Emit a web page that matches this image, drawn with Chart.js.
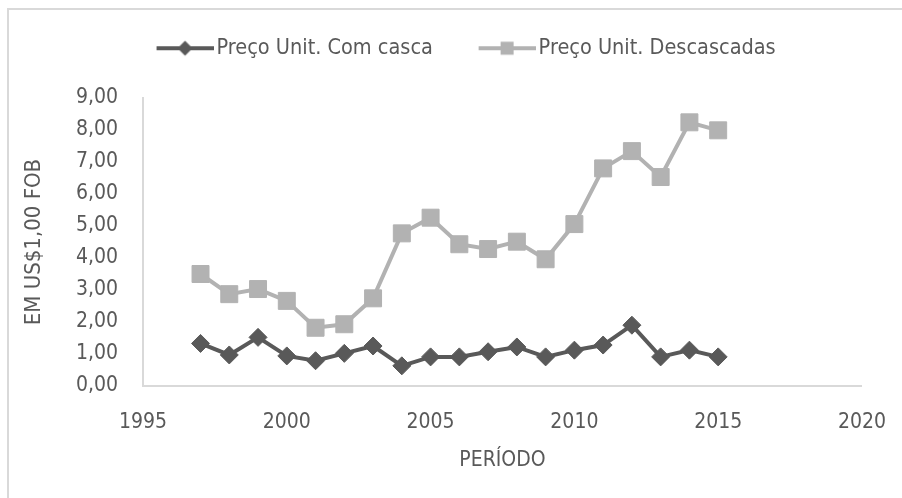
<!DOCTYPE html>
<html>
<head>
<meta charset="utf-8">
<script src="https://cdn.jsdelivr.net/npm/chart.js@4"></script>
<style>
    html, body { margin: 0; padding: 0; background: #fff; overflow: hidden; }
    #moldura {
        position: absolute; left: 7px; top: 8px;
        width: 1000px; height: 1000px;
        border: 2px solid #d9d9d9;
    }
    #chart-container { position: absolute; left: 0; top: 0; width: 902px; height: 498px; }
</style>
</head>
<body>
<div id="moldura"></div>
<div id="chart-container"><canvas id="chart-precos"></canvas></div>
<script>
                        /*
                            ========================
                               DADOS DO GRÁFICO
                            ========================
                                                      */
let anos = [1997, 1998, 1999, 2000, 2001, 2002, 2003, 2004, 2005, 2006,
            2007, 2008, 2009, 2010, 2011, 2012, 2013, 2014, 2015];

let precoComCasca = [1.33, 0.97, 1.52, 0.94, 0.79, 1.02, 1.25, 0.63, 0.91, 0.91,
                     1.07, 1.22, 0.91, 1.12, 1.28, 1.90, 0.91, 1.12, 0.91];

let precoDescascadas = [3.50, 2.87, 3.03, 2.66, 1.82, 1.93, 2.74, 4.77, 5.26, 4.43,
                        4.28, 4.51, 3.96, 5.06, 6.80, 7.34, 6.53, 8.24, 7.99];

let nomesSeries = ['Preço Unit. Com casca', 'Preço Unit. Descascadas'];
let tituloX = 'PERÍODO';
let tituloY = 'EM US$1,00 FOB';

let corEscura = '#595959';
let corClara = '#b2b2b2';
let corTexto = '#595959';
let corEixo = '#d9d9d9';

let tamFonte = 21;
let tamLegenda = 21.5;
let margemEsq = 60; // empurra a legenda para a direita

Chart.defaults.font.family = "'DejaVu Sans Condensed', 'Liberation Sans Narrow', sans-serif";
Chart.defaults.color = corTexto;

/* símbolo da legenda: linha com marcador no meio (com margem vazia à esquerda) */
let margemSimbolo = 18;
function simboloLegenda(cor, tipo) {
    let c = document.createElement('canvas');
    c.width = 57 + margemSimbolo;
    c.height = 20;
    let ctx = c.getContext('2d');
    ctx.translate(margemSimbolo, 0);
    ctx.strokeStyle = cor;
    ctx.lineWidth = 4;
    ctx.beginPath();
    ctx.moveTo(0, 10);
    ctx.lineTo(57, 10);
    ctx.stroke();
    ctx.fillStyle = cor;
    ctx.beginPath();
    if (tipo === 'losango') {
        ctx.moveTo(28.5, 2.5);
        ctx.lineTo(36, 10);
        ctx.lineTo(28.5, 17.5);
        ctx.lineTo(21, 10);
    } else {
        ctx.rect(22, 3.5, 13, 13);
    }
    ctx.fill();
    return c;
}

let simbolos = [simboloLegenda(corEscura, 'losango'), simboloLegenda(corClara, 'quadrado')];

function pares(valores) {
    return anos.map((a, i) => ({ x: a, y: valores[i] }));
}

let datosPrecos = {
    datasets: [
        {
            label: nomesSeries[0],
            data: pares(precoComCasca),
            borderColor: corEscura,
            backgroundColor: corEscura,
            borderWidth: 4,
            tension: 0,
            pointStyle: 'rectRot',
            pointRadius: 9,
            pointBorderWidth: 1,
            pointBorderColor: corEscura,
            pointBackgroundColor: corEscura,
        },
        {
            label: nomesSeries[1],
            data: pares(precoDescascadas),
            borderColor: corClara,
            backgroundColor: corClara,
            borderWidth: 4,
            tension: 0,
            pointStyle: 'rect',
            pointRadius: 12,
            pointBorderWidth: 1,
            pointBorderColor: corClara,
            pointBackgroundColor: corClara,
        },
    ]
};

let opcionesPrecos = {
    responsive: true,
    maintainAspectRatio: false,
    animation: false,
    layout: {
        padding: { top: 2, right: 40, bottom: 0, left: margemEsq }
    },
    scales: {
        x: {
            type: 'linear',
            min: 1995,
            max: 2020,
            grid: { display: false },
            border: { display: true, color: corEixo, width: 2 },
            ticks: {
                stepSize: 5,
                padding: 16,
                font: { size: tamFonte },
                callback: (v) => String(v)
            },
            title: {
                display: true,
                text: tituloX,
                font: { size: tamFonte },
                padding: { top: 4, bottom: 25 }
            },
            afterFit: (s) => { s.height = 112; }
        },
        y: {
            min: 0,
            max: 9,
            grid: { display: false },
            border: { display: true, color: corEixo, width: 2 },
            ticks: {
                stepSize: 1,
                autoSkip: false,
                padding: 17,
                font: { size: tamFonte },
                callback: (v) => v.toFixed(2).replace('.', ',')
            },
            title: {
                display: true,
                text: tituloY,
                font: { size: 22 },
                padding: { top: 21 - margemEsq, bottom: 4 }
            },
            afterFit: (s) => { s.width = 143 - margemEsq; }
        }
    },
    plugins: {
        legend: {
            display: true,
            position: 'top',
            labels: {
                usePointStyle: true,
                pointStyleWidth: 57 + margemSimbolo - tamLegenda + 6,
                padding: 35.5,
                font: { size: tamLegenda },
                color: corTexto,
                generateLabels: (chart) => chart.data.datasets.map((d, i) => ({
                    text: d.label,
                    pointStyle: simbolos[i],
                    fillStyle: d.borderColor,
                    strokeStyle: d.borderColor,
                    lineWidth: 0,
                    hidden: false,
                    datasetIndex: i,
                    fontColor: corTexto
                }))
            }
        },
        // espaço entre a legenda e a área do gráfico
        subtitle: {
            display: true,
            text: '',
            weight: 500,
            font: { size: 10 },
            padding: { top: 8, bottom: 9 }
        },
        tooltip: { enabled: false }
    }//plugins
}//opciones

let ctxPrecos = document.getElementById('chart-precos');

let graficaPrecos = new Chart(ctxPrecos, {
    type: 'line',
    data: datosPrecos,
    options: opcionesPrecos
});
</script>
</body>
</html>
